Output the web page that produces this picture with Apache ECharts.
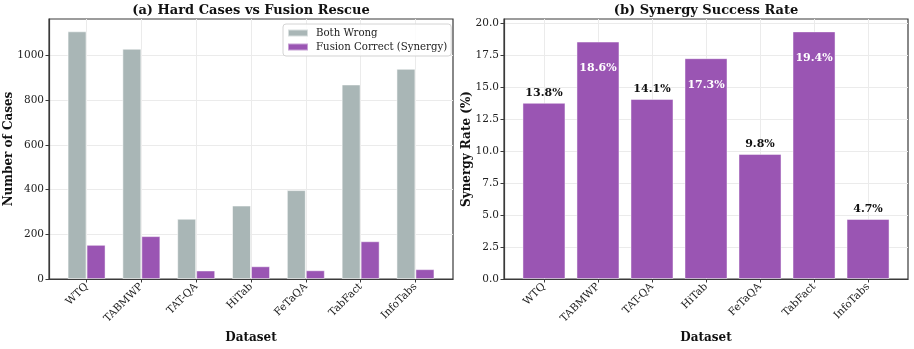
<!DOCTYPE html>
<html>
<head>
<meta charset="utf-8">
<script src="https://cdn.jsdelivr.net/npm/echarts@6/dist/echarts.min.js"></script>
<style>
html,body{margin:0;padding:0;background:#fff;}
#chart{width:914px;height:349px;}
</style>
</head>
<body>
<div id="chart"></div>
<script>
const categories = ['WTQ', 'TABMWP', 'TAT-QA', 'HiTab', 'FeTaQA', 'TabFact', 'InfoTabs'];
const bothWrong = [1109, 1031, 270, 329, 398, 871, 941];
const fusionCorrect = [153, 192, 38, 57, 39, 169, 44];
const synergyRate = [13.8, 18.6, 14.1, 17.3, 9.8, 19.4, 4.7];
const leftYTicks = [0, 200, 400, 600, 800, 1000];
const rightYTicks = [0, 2.5, 5, 7.5, 10, 12.5, 15, 17.5, 20];

const FONT = 'DejaVu Serif';
const GRAY = '#a9b6b6';
const PURPLE = '#9a55b3';
const FRAME = '#3a3a3a';
const catIdx = categories.map((_, i) => i);

function xAxisCfg(gridIndex, min, max) {
  return {
    type: 'value', gridIndex: gridIndex, min: min, max: max,
    name: 'Dataset', nameLocation: 'middle', nameGap: 53,
    nameTextStyle: { fontFamily: FONT, fontWeight: 'bold', fontSize: 12, color: '#111' },
    axisLine: { show: true, onZero: false, lineStyle: { color: FRAME, width: 1.2 } },
    axisTick: { show: true, length: 3.5, customValues: catIdx, lineStyle: { color: FRAME } },
    axisLabel: {
      customValues: catIdx, rotate: 45, margin: 6,
      fontFamily: FONT, fontSize: 10.5, color: '#222',
      formatter: v => categories[Math.round(v)]
    },
    splitLine: { show: true, lineStyle: { color: '#ebebeb', width: 1 } }
  };
}

function yAxisCfg(gridIndex, name, max, ticks, nameGap, fmt) {
  return {
    type: 'value', gridIndex: gridIndex, min: 0, max: max,
    name: name, nameLocation: 'middle', nameGap: nameGap, nameMoveOverlap: false,
    nameTextStyle: { fontFamily: FONT, fontWeight: 'bold', fontSize: 12, color: '#111' },
    axisLine: { show: true, onZero: false, lineStyle: { color: FRAME, width: 1.2 } },
    axisTick: { show: true, length: 3.5, customValues: ticks, lineStyle: { color: FRAME } },
    axisLabel: { customValues: ticks, margin: 5, fontFamily: FONT, fontSize: 10.5, color: '#222', formatter: fmt },
    splitLine: { show: true, lineStyle: { color: '#ebebeb', width: 1 } }
  };
}

const chart = echarts.init(document.getElementById('chart'), null, { renderer: 'canvas' });

const option = {
  animation: false,
  backgroundColor: '#fff',
  title: [
    { text: '(a) Hard Cases vs Fusion Rescue', left: 251, top: 4, textAlign: 'center', padding: 0,
      textStyle: { fontFamily: FONT, fontWeight: 'bold', fontSize: 13, color: '#111' } },
    { text: '(b) Synergy Success Rate', left: 706, top: 4, textAlign: 'center', padding: 0,
      textStyle: { fontFamily: FONT, fontWeight: 'bold', fontSize: 13, color: '#111' } }
  ],
  legend: {
    orient: 'vertical', left: 283, top: 24,
    padding: [4, 4, 4, 4], itemGap: 4, itemWidth: 20, itemHeight: 7,
    backgroundColor: 'rgba(255,255,255,0.85)',
    borderColor: '#d4d4d4', borderWidth: 1, borderRadius: 3,
    icon: 'rect',
    textStyle: { fontFamily: FONT, fontSize: 10.2, color: '#222', padding: [0, 0, 0, 3] },
    data: ['Both Wrong', 'Fusion Correct (Synergy)']
  },
  grid: [
    { left: 49, right: 461, top: 19, bottom: 65, show: true, borderColor: FRAME, borderWidth: 1.2, backgroundColor: '#fff' },
    { left: 504, right: 6, top: 19, bottom: 65, show: true, borderColor: FRAME, borderWidth: 1.2, backgroundColor: '#fff' }
  ],
  xAxis: [xAxisCfg(0, -0.685, 6.685), xAxisCfg(1, -0.74, 6.74)],
  yAxis: [
    yAxisCfg(0, 'Number of Cases', 1164, leftYTicks, 34, v => String(v)),
    yAxisCfg(1, 'Synergy Rate (%)', 20.37, rightYTicks, 31, v => v.toFixed(1))
  ],
  series: [
    {
      name: 'Both Wrong', type: 'bar', xAxisIndex: 0, yAxisIndex: 0,
      barWidth: 19, barGap: '0%',
      itemStyle: { color: GRAY, borderColor: 'rgba(255,255,255,0.55)', borderWidth: 1 },
      data: bothWrong.map((v, i) => [i, v])
    },
    {
      name: 'Fusion Correct (Synergy)', type: 'bar', xAxisIndex: 0, yAxisIndex: 0,
      barWidth: 19, barGap: '0%',
      itemStyle: { color: PURPLE, borderColor: 'rgba(255,255,255,0.45)', borderWidth: 1 },
      data: fusionCorrect.map((v, i) => [i, v])
    },
    {
      name: 'Synergy Rate', type: 'bar', xAxisIndex: 1, yAxisIndex: 1,
      barWidth: 43,
      itemStyle: { color: PURPLE, borderColor: 'rgba(255,255,255,0.45)', borderWidth: 1 },
      data: synergyRate.map((v, i) => {
        const inside = v > 15;
        return {
          value: [i, v],
          label: {
            show: true,
            position: inside ? 'insideTop' : 'top',
            distance: inside ? 21 : 4,
            formatter: v.toFixed(1) + '%',
            fontFamily: FONT, fontWeight: 'bold', fontSize: 11,
            color: inside ? '#fff' : '#111'
          }
        };
      })
    }
  ]
};
chart.setOption(option);
</script>
</body>
</html>
